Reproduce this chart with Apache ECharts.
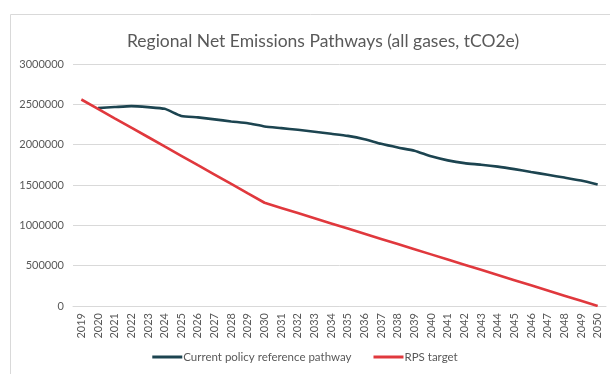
<!DOCTYPE html>
<html>
<head>
<meta charset="utf-8">
<script src="https://cdn.jsdelivr.net/npm/echarts@6/dist/echarts.min.js"></script>
<style>
  html, body { margin: 0; padding: 0; background: #fff; }
  #chart { width: 610px; height: 374px; }
</style>
</head>
<body>
<div id="chart"></div>
<script>
// Years on the category axis
const years = [
  '2019','2020','2021','2022','2023','2024','2025','2026','2027','2028',
  '2029','2030','2031','2032','2033','2034','2035','2036','2037','2038',
  '2039','2040','2041','2042','2043','2044','2045','2046','2047','2048',
  '2049','2050'
];

// Current policy reference pathway (tCO2e); no value for 2019
const currentPolicy = [
  null, 2453000, 2466000, 2478000, 2465000, 2444000, 2356000, 2338000, 2314000, 2288000,
  2266000, 2226000, 2205000, 2184000, 2160000, 2135000, 2109000, 2068000, 2010000, 1964000,
  1924000, 1855000, 1805000, 1771000, 1752000, 1728000, 1697000, 1662000, 1627000, 1592000,
  1555000, 1505000
];

// RPS target pathway (tCO2e)
const rpsTarget = [
  2560000, 2444000, 2327000, 2211000, 2095000, 1978000, 1862000, 1745000, 1629000, 1513000,
  1396000, 1280000, 1216000, 1152000, 1088000, 1024000, 960000, 896000, 832000, 768000,
  704000, 640000, 576000, 512000, 448000, 384000, 320000, 256000, 192000, 128000,
  64000, 0
];

// Y-axis tick values
const yTicks = [0, 500000, 1000000, 1500000, 2000000, 2500000, 3000000];

const textColor = '#595959';
const gridColor = '#d9d9d9';
const fontFamily = 'Lato, "Open Sans", sans-serif';

const chart = echarts.init(document.getElementById('chart'));
chart.setOption({
  animation: false,
  textStyle: { fontFamily: fontFamily },
  graphic: [{
    type: 'rect',
    shape: { x: 10.5, y: 14.5, width: 700, height: 500 },
    style: { fill: 'none', stroke: gridColor, lineWidth: 1 },
    silent: true,
    z: -1
  }],
  title: {
    text: 'Regional Net Emissions Pathways (all gases, tCO2e)',
    left: 318,
    textAlign: 'center',
    top: 27,
    textStyle: { fontFamily: fontFamily, fontSize: 17.5, fontWeight: 'normal', color: textColor }
  },
  legend: {
    bottom: 6,
    left: 'center',
    itemWidth: 30,
    itemHeight: 3,
    itemGap: 22,
    icon: 'rect',
    textStyle: { fontFamily: fontFamily, fontSize: 11.5, color: textColor, padding: [0, 0, 0, -4] },
    data: ['Current policy reference pathway', 'RPS target']
  },
  grid: { left: 73, right: 4, top: 64, bottom: 68, containLabel: false },
  xAxis: {
    type: 'category',
    data: years,
    boundaryGap: true,
    axisLine: { lineStyle: { color: gridColor, width: 1 } },
    axisTick: { show: false },
    axisLabel: { rotate: 90, interval: 0, fontSize: 11, color: textColor, margin: 7, fontFamily: fontFamily }
  },
  yAxis: {
    type: 'value',
    min: yTicks[0],
    max: yTicks[yTicks.length - 1],
    interval: yTicks[1] - yTicks[0],
    axisLine: { show: false },
    axisTick: { show: false },
    splitLine: { lineStyle: { color: gridColor, width: 1 } },
    axisLabel: {
      fontSize: 11,
      color: textColor,
      margin: 9,
      fontFamily: fontFamily,
      formatter: function (v) { return String(v); }
    }
  },
  series: [
    {
      name: 'Current policy reference pathway',
      type: 'line',
      data: currentPolicy,
      showSymbol: false,
      symbol: 'none',
      smooth: 0.2,
      color: '#1c4450',
      lineStyle: { width: 2.6, color: '#1c4450' }
    },
    {
      name: 'RPS target',
      type: 'line',
      data: rpsTarget,
      showSymbol: false,
      symbol: 'none',
      color: '#e0383d',
      lineStyle: { width: 2.6, color: '#e0383d' }
    }
  ]
});
</script>
</body>
</html>
